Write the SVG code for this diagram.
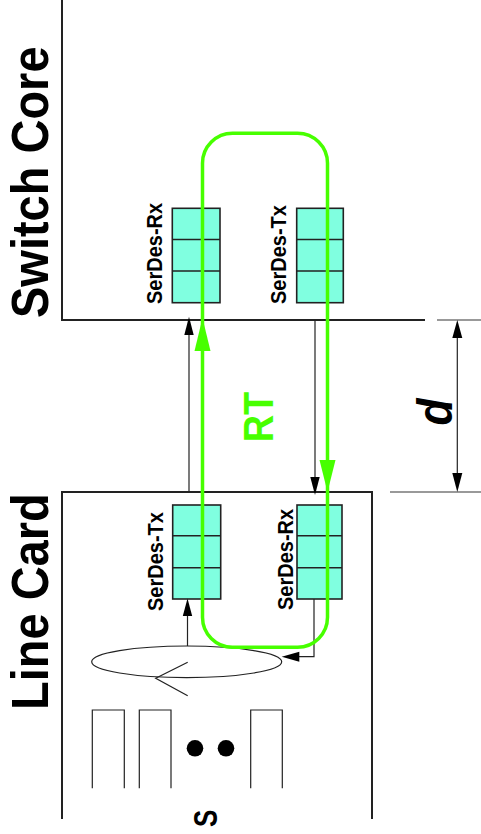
<svg xmlns="http://www.w3.org/2000/svg" width="481" height="834" viewBox="0 0 481 834">
<defs>
<style>
.frame{fill:none;stroke:#222;stroke-width:2}
.box{fill:#80ffe0;stroke:#222;stroke-width:1.6}
.div{stroke:#222;stroke-width:1.6}
.thin{fill:none;stroke:#222;stroke-width:1.2}
.ext{fill:none;stroke:#777;stroke-width:1.6}
.green{fill:none;stroke:#47ff00;stroke-width:3.5}
.gh{fill:#47ff00}
.ah{fill:#000}
.big{font-family:"Liberation Sans",Arial,sans-serif;font-weight:bold;font-size:47px;fill:#000}
.lbl{font-family:"Liberation Sans",Arial,sans-serif;font-weight:bold;font-size:20px;fill:#000}
.rt{font-family:"Liberation Sans",Arial,sans-serif;font-weight:bold;font-size:38px;fill:#47ff00}
.d{font-family:"Liberation Sans",Arial,sans-serif;font-weight:bold;font-style:italic;font-size:44px;fill:#000}
</style>
</defs>
<rect width="481" height="834" fill="#fff"/>

<g id="switch-core">
<path class="frame" d="M62,0 V320 H425"/>
<text class="big" transform="translate(47.5,318) scale(1.1,1) rotate(-90)">Switch Core</text>
</g>

<g id="line-card">
<path class="frame" d="M62,819 V492 H372 V819"/>
<text class="big" transform="translate(47.5,710) scale(1.1,1) rotate(-90)">Line Card</text>
</g>

<g id="sc-serdes-rx">
<rect class="box" x="172.3" y="208.3" width="47.7" height="94.4"/>
<line class="div" x1="172.3" y1="239.5" x2="220" y2="239.5"/>
<line class="div" x1="172.3" y1="271" x2="220" y2="271"/>
<text class="lbl" transform="translate(161.5,304) scale(1.13,1) rotate(-90)">SerDes-Rx</text>
</g>

<g id="sc-serdes-tx">
<rect class="box" x="296.7" y="208.3" width="46.6" height="94.4"/>
<line class="div" x1="296.7" y1="239.5" x2="343.3" y2="239.5"/>
<line class="div" x1="296.7" y1="271" x2="343.3" y2="271"/>
<text class="lbl" transform="translate(286,304) scale(1.13,1) rotate(-90)">SerDes-Tx</text>
</g>

<g id="lc-serdes-tx">
<rect class="box" x="172.7" y="505" width="48" height="94"/>
<line class="div" x1="172.7" y1="535.7" x2="220.7" y2="535.7"/>
<line class="div" x1="172.7" y1="567.7" x2="220.7" y2="567.7"/>
<text class="lbl" transform="translate(162.5,611) scale(1.13,1) rotate(-90)">SerDes-Tx</text>
</g>

<g id="lc-serdes-rx">
<rect class="box" x="297" y="505" width="45" height="94"/>
<line class="div" x1="297" y1="535.7" x2="342" y2="535.7"/>
<line class="div" x1="297" y1="567.7" x2="342" y2="567.7"/>
<text class="lbl" transform="translate(293,610) scale(1.13,1) rotate(-90)">SerDes-Rx</text>
</g>

<g id="scheduler">
<ellipse class="thin" cx="186.7" cy="661.8" rx="95" ry="15.8"/>
<polyline class="thin" points="187.7,662.3 155.7,678.3 187.7,695.7"/>
</g>

<g id="queues">
<polyline class="thin" points="92.3,788.3 92.3,710 124.3,710 124.3,788.3"/>
<polyline class="thin" points="139.3,788.3 139.3,710 171,710 171,788.3"/>
<polyline class="thin" points="250.7,788.3 250.7,710 282.3,710 282.3,788.3"/>
<circle cx="195" cy="748.3" r="8.3" fill="#000"/>
<circle cx="226" cy="748.3" r="8.3" fill="#000"/>
<text class="lbl" style="font-size:26px" transform="translate(216.5,827) scale(1.25,1) rotate(-90)">S</text>
</g>

<g id="dimension">
<line class="ext" x1="437" y1="320" x2="481" y2="320"/>
<line class="ext" x1="390" y1="492" x2="481" y2="492"/>
<line class="thin" x1="457.3" y1="336" x2="457.3" y2="476"/>
<polygon class="ah" points="457.3,320 452.3,338 462.3,338"/>
<polygon class="ah" points="457.3,492 452.3,473 462.3,473"/>
<text class="d" text-anchor="middle" transform="translate(451.5,412) scale(1.13,1) rotate(-90)">d</text>
</g>

<g id="connectors">
<line class="thin" x1="189" y1="492" x2="189" y2="333"/>
<polygon class="ah" points="189,316.7 184.3,335 193.7,335"/>
<line class="thin" x1="315" y1="320" x2="315" y2="479"/>
<polygon class="ah" points="315,495 310.3,477 319.7,477"/>
<line class="thin" x1="187.5" y1="646" x2="187.5" y2="614"/>
<polygon class="ah" points="187.5,598.5 182.8,616 192.2,616"/>
<polyline class="thin" points="314,599 314,656.7 298,656.7"/>
<polygon class="ah" points="281.7,656.7 299.3,651.7 299.3,661.7"/>
</g>

<g id="rt-loop">
<path class="green" d="M202.5,350 V163.3 A30,30 0 0 1 232.5,133.3 H297.5 A30,30 0 0 1 327.5,163.3 V617.3 A30,30 0 0 1 297.5,647.3 H232.5 A30,30 0 0 1 202.5,617.3 Z"/>
<polygon class="gh" points="202.5,318 194.5,351 210.5,351"/>
<polygon class="gh" points="327.5,492 319.5,460 335.5,460"/>
<text class="rt" text-anchor="middle" transform="translate(273,417) scale(1.13,1) rotate(-90)">RT</text>
</g>
</svg>
